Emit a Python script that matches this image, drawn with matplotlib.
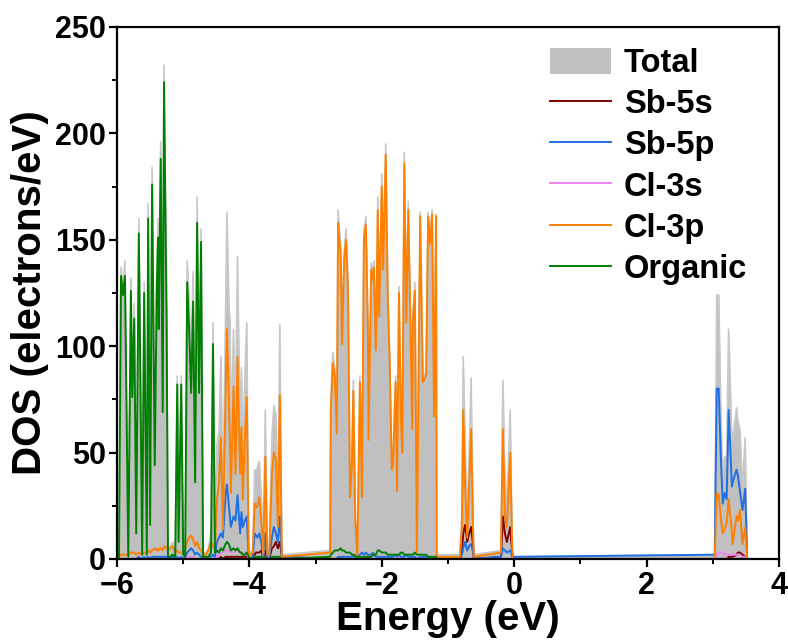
import numpy as np
import matplotlib.pyplot as plt
from matplotlib.patches import Patch
from matplotlib.ticker import MultipleLocator

plt.rcParams['font.family'] = ['Liberation Sans', 'DejaVu Sans']
plt.rcParams['font.weight'] = 'bold'

# energy grid (eV); gaps are bridged by straight lines
energy = [-5.97, -5.94, -5.91, -5.88, -5.86, -5.83, -5.79, -5.77, -5.74, -5.71,
          -5.67, -5.62, -5.59, -5.55, -5.53, -5.50, -5.47, -5.43, -5.40, -5.38,
          -5.37, -5.34, -5.31, -5.29, -5.25, -5.23, -5.20, -5.16, -5.12, -5.09,
          -5.07, -5.03, -5.00, -4.97, -4.94, -4.91, -4.88, -4.85, -4.82, -4.79,
          -4.76, -4.73, -4.70, -4.66, -4.62, -4.58, -4.55, -4.52, -4.49, -4.46,
          -4.43, -4.40, -4.36, -4.34, -4.31, -4.29, -4.28, -4.24, -4.21, -4.18,
          -4.14, -4.12, -4.10, -4.07, -4.04, -4.01, -3.98, -3.95, -3.92, -3.90,
          -3.88, -3.85, -3.82, -3.79, -3.76, -3.73, -3.70, -3.66, -3.63, -3.60,
          -3.57, -3.54, -3.51,
          -2.78, -2.77, -2.74, -2.71, -2.68, -2.66, -2.62, -2.60, -2.57, -2.54,
          -2.51, -2.48, -2.45, -2.43, -2.40, -2.37, -2.33, -2.30, -2.27, -2.24,
          -2.21, -2.20, -2.16, -2.13, -2.12, -2.09, -2.06, -2.04, -2.00, -1.98,
          -1.94, -1.91, -1.88, -1.85, -1.83, -1.79, -1.77, -1.74, -1.71, -1.69,
          -1.66, -1.63, -1.60, -1.57, -1.54, -1.53, -1.50, -1.47, -1.42, -1.38,
          -1.33, -1.30, -1.27, -1.24, -1.21, -1.18, -1.17,
          -0.82, -0.79, -0.77, -0.74, -0.71, -0.68, -0.65, -0.62, -0.61,
          -0.20, -0.17, -0.14, -0.11, -0.06, -0.03, -0.02,
          3.03, 3.06, 3.09, 3.12, 3.15, 3.18, 3.21, 3.24, 3.29, 3.30,
          3.36, 3.38, 3.41, 3.45, 3.49, 3.52]

total = [2, 137, 128, 140, 82, 3, 132, 80, 120, 14,
         160, 4, 130, 5, 167, 19, 184, 50, 132, 160,
         113, 196, 74, 232, 116, 5, 6, 8, 4, 86,
         12, 86, 5, 6, 140, 122, 96, 135, 44, 170,
         86, 155, 3, 3, 5, 12, 111, 9, 54, 60,
         95, 30, 115, 163, 120, 111, 52, 108, 65, 142,
         60, 90, 50, 84, 111, 4, 3, 4, 42, 40,
         43, 46, 30, 3, 70, 3, 3, 58, 72, 68,
         30, 110, 2,
         4, 74, 97, 90, 62, 164, 146, 105, 144, 155,
         130, 32, 48, 84, 20, 2, 86, 32, 154, 161,
         111, 58, 139, 134, 140, 101, 170, 117, 181, 139,
         195, 127, 95, 44, 48, 86, 34, 128, 68, 52,
         191, 114, 168, 119, 63, 115, 130, 4, 163, 85,
         88, 163, 150, 164, 69, 162, 2,
         2, 20, 95, 56, 18, 50, 85, 20, 2,
         4, 84, 40, 25, 70, 10, 1,
         2, 124, 124, 75, 40, 48, 48, 108, 56, 56,
         71, 65, 61, 34, 57, 1]

sb_5s = [0] * 48 + [0, 0, 1, 0, 1, 1, 1, 1, 1, 1,
         1, 1, 1, 1, 1, 1, 1, 0, 0, 1, 2, 3,
         3, 3, 4, 0, 4, 0, 0, 5, 6, 8,
         5, 8, 1] + [0] * 19 + [1, 1] + [0] * 36 + [
         0, 3, 12, 16, 8, 12, 15, 6, 0,
         1, 20, 12, 8, 15, 3, 0,
         0, 0, 0, 0, 0, 0, 0, 1, 1, 1,
         2, 3, 3, 2, 1, 0]

sb_5p = [0, 0, 0, 0, 0, 0, 0, 0, 0, 0,
         1, 0, 1, 0, 1, 0, 1, 1, 1, 1,
         1, 1, 1, 1, 1, 0, 1, 1, 0, 1,
         0, 1, 0, 1, 3, 4, 5, 4, 2, 3,
         2, 1, 0, 0, 1, 1, 2, 1, 8, 10,
         12, 10, 30, 35, 25, 18, 15, 20, 18, 30,
         12, 22, 15, 18, 20, 1, 0, 0, 12, 11,
         10, 12, 8, 0, 12, 0, 0, 10, 15, 12,
         8, 20, 1,
         0, 0, 0, 0, 0, 1, 1, 1, 1, 1,
         1, 1, 1, 1, 2, 1, 2, 3, 2, 3,
         2, 2, 2, 3, 2, 1, 1, 1, 1, 1,
         1, 1, 1, 1, 1, 2, 1, 2, 1, 1,
         1, 2, 1, 1, 1, 1, 1, 0, 1, 1,
         1, 1, 1, 1, 1, 1, 0,
         0, 2, 5, 8, 4, 6, 7, 3, 0,
         1, 5, 4, 3, 4, 1, 1,
         2, 80, 80, 50, 26, 31, 28, 70, 34, 36,
         42, 39, 32, 23, 33, 1]

cl_3s = [0] * 34 + [1, 1, 1, 1, 0, 0, 0, 0, 0, 0,
         0, 0, 0, 0, 1, 2, 3, 3, 4, 4,
         4, 4, 3, 3, 4, 4, 3, 3, 3, 3,
         3, 0, 0, 0, 1, 1, 1, 1, 1, 0,
         1, 0, 0, 1, 1, 1, 1, 1, 0] + [0] * 57 + [0] * 16 + [
         0, 2, 3, 3, 3, 2, 2, 2, 2, 2,
         2, 2, 2, 1, 1, 0]

cl_3p = [1, 2, 2, 2, 2, 2, 3, 3, 3, 2,
         3, 2, 3, 3, 4, 3, 4, 5, 4, 5,
         4, 5, 4, 6, 5, 4, 5, 6, 3, 4,
         3, 3, 3, 5, 8, 10, 11, 9, 6, 8,
         5, 4, 2, 2, 4, 8, 6, 5, 28, 35,
         57, 14, 76, 108, 75, 50, 31, 81, 40, 95,
         40, 62, 28, 56, 76, 2, 2, 3, 26, 24,
         25, 29, 17, 2, 48, 2, 2, 40, 50, 47,
         15, 77, 1,
         3, 70, 92, 86, 59, 158, 142, 101, 140, 150,
         126, 29, 45, 79, 18, 1, 83, 29, 150, 157,
         108, 56, 136, 131, 137, 98, 164, 114, 175, 136,
         190, 123, 92, 42, 45, 83, 32, 125, 65, 50,
         186, 111, 164, 116, 61, 112, 126, 3, 161, 83,
         86, 161, 148, 162, 67, 161, 1,
         1, 15, 70, 34, 10, 35, 61, 12, 1,
         3, 61, 20, 15, 50, 5, 0,
         0, 31, 30, 20, 12, 14, 17, 28, 12, 7,
         20, 18, 23, 7, 15, 0]

organic = [1, 133, 124, 133, 79, 1, 126, 76, 113, 12,
           153, 2, 125, 2, 160, 16, 176, 44, 127, 151,
           108, 188, 69, 224, 110, 1, 1, 2, 1, 82,
           8, 82, 2, 1, 130, 107, 78, 121, 36, 158,
           78, 149, 1, 1, 1, 3, 101, 3, 4, 3,
           5, 4, 7, 8, 7, 5, 4, 5, 4, 5,
           3, 3, 2, 2, 3, 1, 0, 0, 1, 1,
           1, 1, 1, 0, 1, 0, 0, 1, 1, 1,
           1, 1, 0,
           1, 2, 3, 4, 4, 4, 5, 4, 4, 3,
           3, 3, 2, 2, 1, 1, 1, 1, 1, 1,
           1, 1, 1, 2, 2, 2, 4, 4, 3, 3,
           3, 2, 2, 2, 2, 2, 2, 2, 3, 3,
           2, 2, 2, 2, 2, 2, 3, 2, 2, 2,
           2, 1, 1, 1, 1, 1, 0,
           0, 0, 0, 0, 0, 0, 0, 0, 0,
           0, 0, 0, 0, 0, 0, 0,
           0, 0, 0, 0, 0, 0, 0, 0, 0, 0,
           0, 0, 0, 0, 0, 0]

labels = ['Sb-5s', 'Sb-5p', 'Cl-3s', 'Cl-3p', 'Organic']
colors = ['#800000', '#1f6fe5', '#ee82ee', '#ff8000', '#008000']

fig = plt.figure(figsize=(7.88, 6.41), dpi=100)
ax = fig.add_axes([0.1485, 0.128, 0.840, 0.830])

ax.fill_between(energy, total, 0, color='#c0c0c0', lw=0)
ax.plot(energy, total, color='#c8c8c8', lw=1.2)
for y, lab, c in zip([sb_5s, sb_5p, cl_3s, cl_3p, organic], labels, colors):
    ax.plot(energy, y, color=c, lw=1.4, label=lab)

ax.set_xlim(-6, 4)
ax.set_ylim(0, 250)
ax.xaxis.set_major_locator(MultipleLocator(2))
ax.xaxis.set_minor_locator(MultipleLocator(1))
ax.yaxis.set_major_locator(MultipleLocator(50))
ax.yaxis.set_minor_locator(MultipleLocator(25))
ax.tick_params(which='major', direction='out', length=6, width=1.6,
               labelsize=22)
ax.tick_params(axis='y', which='major', pad=2)
ax.tick_params(axis='x', which='major', pad=3)
ax.tick_params(which='minor', direction='out', length=3.5, width=1.4)
for s in ax.spines.values():
    s.set_linewidth(1.6)
ax.set_xlabel('Energy (eV)', fontsize=29, fontweight='bold', labelpad=-1)
ax.set_ylabel('DOS (electrons/eV)', fontsize=29, fontweight='bold', labelpad=4)

handles = [Patch(color='#c0c0c0', lw=0)] + ax.get_lines()[1:]
ax.legend(handles, ['Total'] + labels, loc='upper right', frameon=False,
          fontsize=23.5, handlelength=1.87, handleheight=0.85, handletextpad=0.4,
          labelspacing=0.30, borderaxespad=0, borderpad=0.4,
          bbox_to_anchor=(0.972, 0.985))

fig.savefig('out.png', dpi=100)
